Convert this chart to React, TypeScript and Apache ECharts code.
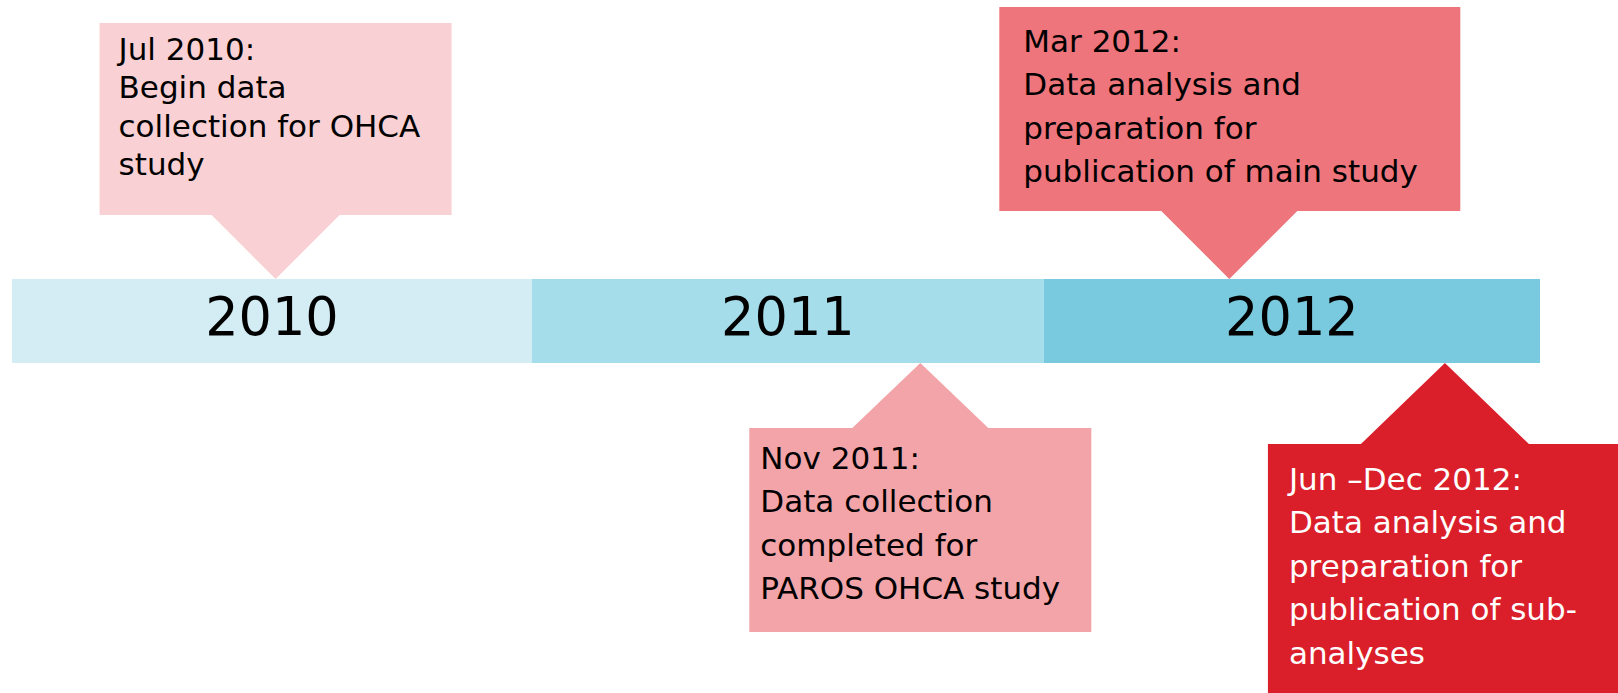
import React, { useEffect, useRef } from "react";
import * as echarts from "echarts";

// ---- data ----
const years = ["2010", "2011", "2012"];
const yearStart = [0, 12.25, 24.31];
const yearEnd = [12.25, 24.31, 36];
const yearColors = ["#D4EDF4", "#A6DDEA", "#7ACADF"];

const eventLabels = [
  "Jul 2010:\nBegin data\ncollection for OHCA\nstudy",
  "Nov 2011:\nData collection\ncompleted for\nPAROS OHCA study",
  "Mar 2012:\nData analysis and\npreparation for\npublication of main study",
  "Jun \u2013Dec 2012:\nData analysis and\npreparation for\npublication of sub-\nanalyses",
];
const eventPos = [6.21, 21.4, 28.68, 33.76];
const eventSide = [1, 0, 1, 0]; // 1 = above the bar, 0 = below

// ---- layout / style ----
const boxColors = ["#F9D0D3", "#F2A4A8", "#ED757B", "#DA1F2A"];
const textColors = ["#000000", "#000000", "#000000", "#FFFFFF"];
const boxW = [352, 342, 461, 360];
const boxH = [192, 204, 204, 260];
const arrowH = [64, 65, 68, 81];
const arrowHalf = [64, 68, 68, 84];
const boxLeftOff = [-176, -171, -230, -177];
const padLeft = [19, 11, 24, 21];
const firstBaseline = [37, 41, 45, 46];
const lineH = [38.5, 43.5, 43.5, 43.5];
const FONT = "DejaVu Sans";
const FS = 31;

export default function App() {
  const ref = useRef<HTMLDivElement>(null);
  useEffect(() => {
    if (!ref.current) return;
    const chart = echarts.init(ref.current, undefined, { renderer: "svg" });
    const option: any = {
      animation: false,
      backgroundColor: "#ffffff",
      grid: { left: 12, right: 78, top: 279, bottom: 330 },
      xAxis: { type: "value", min: 0, max: 36, show: false },
      yAxis: { type: "value", min: 0, max: 1, show: false },
      series: [
        {
          type: "custom",
          z: 2,
          clip: false,
          data: years.map((y, i) => [yearStart[i], yearEnd[i], i]),
          renderItem: (params: any, api: any) => {
            const i = params.dataIndex;
            const p0 = api.coord([api.value(0), 1]);
            const p1 = api.coord([api.value(1), 0]);
            return {
              type: "group",
              children: [
                {
                  type: "rect",
                  shape: { x: p0[0], y: p0[1], width: p1[0] - p0[0], height: p1[1] - p0[1] },
                  style: { fill: yearColors[i] },
                },
                {
                  type: "text",
                  style: {
                    text: years[i],
                    x: (p0[0] + p1[0]) / 2,
                    y: (p0[1] + p1[1]) / 2 - 5,
                    align: "center",
                    verticalAlign: "middle",
                    fontFamily: FONT,
                    fontSize: 52.5,
                    fill: "#000000",
                  },
                },
              ],
            };
          },
        },
        {
          type: "custom",
          z: 1,
          clip: false,
          data: eventPos.map((x, i) => [x, eventSide[i]]),
          renderItem: (params: any, api: any) => {
            const i = params.dataIndex;
            const [ax, ay] = api.coord([api.value(0), api.value(1)]);
            const above = api.value(1) === 1;
            const left = ax + boxLeftOff[i];
            const right = left + boxW[i];
            let top: number;
            let pts: number[][];
            if (above) {
              const base = ay - arrowH[i];
              top = base - boxH[i];
              pts = [
                [left, top], [right, top], [right, base], [ax + arrowHalf[i], base],
                [ax, ay], [ax - arrowHalf[i], base], [left, base],
              ];
            } else {
              const base = ay + arrowH[i];
              top = base;
              const bottom = base + boxH[i];
              pts = [
                [left, base], [ax - arrowHalf[i], base], [ax, ay], [ax + arrowHalf[i], base],
                [right, base], [right, bottom], [left, bottom],
              ];
            }
            const L = lineH[i];
            const textTop = top + firstBaseline[i] - L / 2 - 0.36 * FS;
            return {
              type: "group",
              children: [
                { type: "polygon", shape: { points: pts }, style: { fill: boxColors[i] } },
                {
                  type: "text",
                  style: {
                    text: eventLabels[i],
                    x: left + padLeft[i],
                    y: textTop,
                    align: "left",
                    verticalAlign: "top",
                    fontFamily: FONT,
                    fontSize: FS,
                    lineHeight: L,
                    fill: textColors[i],
                  },
                },
              ],
            };
          },
        },
      ],
    };
    chart.setOption(option);
    return () => chart.dispose();
  }, []);
  return (
    <div
      ref={ref}
      style={{ position: "fixed", left: 0, top: 0, width: 1618, height: 693 }}
    />
  );
}
